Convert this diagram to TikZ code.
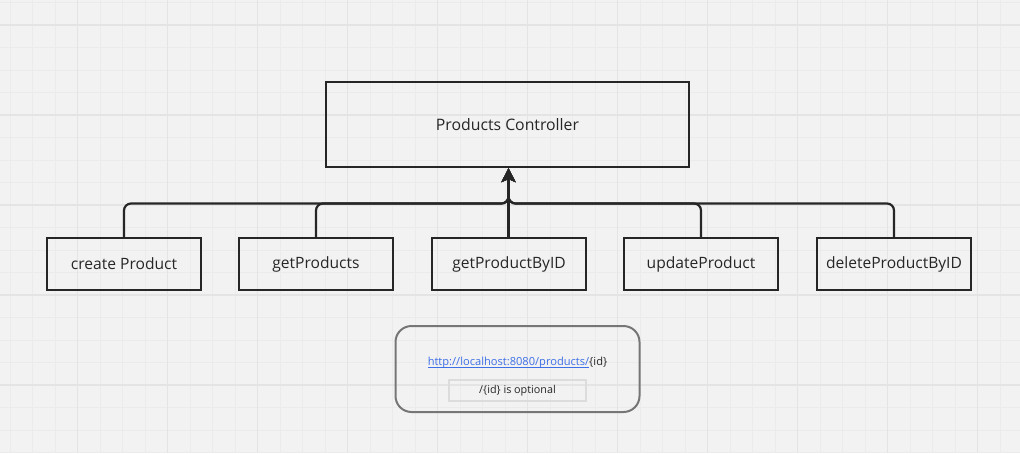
\documentclass[tikz,border=0pt]{standalone}
\usepackage{fontspec}
\setmainfont{Open Sans}
\usetikzlibrary{arrows.meta}
\definecolor{bg}{HTML}{F2F2F2}
\definecolor{gminor}{HTML}{EBEBEB}
\definecolor{gmajor}{HTML}{E4E4E4}
\definecolor{ink}{HTML}{262626}
\definecolor{linkblue}{HTML}{3D6FE6}
\definecolor{roundgray}{HTML}{767676}
\definecolor{notegray}{HTML}{DCDCDC}
\newcommand{\myul}[1]{\setbox0\hbox{#1}\rlap{\rule[-1.6pt]{\wd0}{0.7pt}}\box0}
\tikzset{
  opbox/.style={draw=ink, line width=2.2pt, minimum width=154pt, minimum height=52pt, inner sep=0pt, font=\fontsize{15.6}{18}\selectfont, text=ink},
  ctrlbox/.style={draw=ink, line width=2.2pt, minimum width=363pt, minimum height=85pt, inner sep=0pt, font=\fontsize{15.8}{18}\selectfont, text=ink},
  conn/.style={draw=ink, line width=2.2pt, rounded corners=7pt},
  tip/.style={-{Stealth[length=14pt,width=14pt,inset=3pt]}},
}
\begin{document}
\begin{tikzpicture}[x=1pt,y=-1pt]
\useasboundingbox (0,0) rectangle (1020,453);
\fill[bg] (0,0) rectangle (1020,453);
% grid
\foreach \i in {0,...,45} {
  \draw[gminor, line width=0.8pt] ({10+22.5*\i},0) -- ({10+22.5*\i},453);
}
\foreach \i in {0,...,20} {
  \draw[gminor, line width=0.8pt] (0,{2.5+22.5*\i}) -- (1020,{2.5+22.5*\i});
}
\foreach \i in {0,...,11} {
  \draw[gmajor, line width=1.2pt] ({-12.5+90*\i},0) -- ({-12.5+90*\i},453);
}
\foreach \i in {0,...,5} {
  \draw[gmajor, line width=1.2pt] (0,{25+90*\i}) -- (1020,{25+90*\i});
}
% nodes
\node[ctrlbox] (pc) at (507.5,124.5) {Products Controller};
\node[opbox] (cp) at (124,264) {create Product};
\node[opbox] (gp) at (316,264) {getProducts};
\node[opbox] (gid) at (509,264) {getProductByID};
\node[opbox] (up) at (701,264) {updateProduct};
\node[opbox] (del) at (894,264) {deleteProductByID};
\coordinate (join) at (508.5,203.5);
% connectors
\draw[conn, tip] (cp.north) |- (join) -- (pc.south -| join);
\draw[conn, tip] (gp.north) |- (join) -- (pc.south -| join);
\draw[conn, tip] (up.north) |- (join) -- (pc.south -| join);
\draw[conn, tip] (del.north) |- (join) -- (pc.south -| join);
\draw[conn, tip] (gid.north -| join) -- (pc.south -| join);
% url box
\node[draw=roundgray, line width=2pt, rounded corners=16pt, minimum width=244pt, minimum height=86pt] (url) at (517.5,369) {};
\node[font=\fontsize{11.1}{13}\selectfont, inner sep=0pt] (link) at (517.5,363) {\textcolor{linkblue}{\myul{http://localhost:8080/products/}}\textcolor{ink}{\{id\}}};
\node[draw=notegray, line width=1.4pt, minimum width=137pt, minimum height=21pt, inner sep=0pt, font=\fontsize{10.8}{13}\selectfont, text=ink] (note) at (517.5,390.5) {/\{id\} is optional};
\end{tikzpicture}
\end{document}
